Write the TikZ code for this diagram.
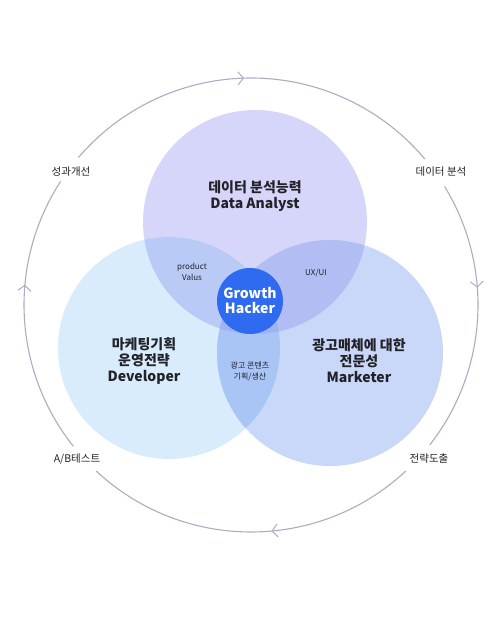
\documentclass[tikz,border=0pt]{standalone}
\usepackage{fontspec}
\setmainfont{Noto Sans CJK KR}
\usepackage{tikz}
\usetikzlibrary{arrows.meta,positioning}
\usetikzlibrary{decorations.markings}
\definecolor{RingLine}{HTML}{ABADC5}
\definecolor{AnalystFill}{HTML}{D6D6FA}
\definecolor{DeveloperFill}{HTML}{D8ECFB}
\definecolor{MarketerFill}{HTML}{C9D7F8}
\definecolor{AnalystDeveloper}{HTML}{B9CAF6}
\definecolor{AnalystMarketer}{HTML}{B1BDF3}
\definecolor{DeveloperMarketer}{HTML}{A9C5F6}
\definecolor{AllThree}{HTML}{9DB3F2}
\definecolor{HackerBlue}{HTML}{2F6BF0}
\definecolor{TextDark}{HTML}{222228}
\tikzset{
        ring arrow/.style={
            postaction={
                decorate,decoration={
                    markings,
                    mark=at position #1 with {\arrow{Straight Barb[length=5.5pt,width=13pt,line width=1pt]}}
                }
            }
        },
        ring/.style={draw=RingLine, line width=1.1pt},
        bubble/.style={circle, inner sep=0pt, minimum size=#1},
        title/.style={align=center, font=\fontsize{14}{16}\selectfont\bfseries, text=TextDark},
        step label/.style={font=\fontsize{10.5}{12}\selectfont, text=TextDark},
        small label/.style={align=center, font=\fontsize{8}{11}\selectfont, text=TextDark},
    }
\begin{document}
\begin{tikzpicture}[x = 1pt, y = 1pt]
    \useasboundingbox[fill=white] (0,0) rectangle (501,621);
    \coordinate (cycle) at (251,316);
    % the three circles
    \node[bubble=224pt, fill=AnalystFill] (analyst) at (255,399) {};
    \node[bubble=222pt, fill=DeveloperFill] (developer) at (169,273) {};
    \node[bubble=226pt, fill=MarketerFill] (marketer) at (330,268) {};
    % overlaps
    \begin{scope}
        \clip (analyst.center) circle [radius=112];
        \fill[AnalystDeveloper] (developer.center) circle [radius=111];
        \fill[AnalystMarketer] (marketer.center) circle [radius=113];
    \end{scope}
    \begin{scope}
        \clip (developer.center) circle [radius=111];
        \fill[DeveloperMarketer] (marketer.center) circle [radius=113];
        \clip (marketer.center) circle [radius=113];
        \fill[AllThree] (analyst.center) circle [radius=112];
    \end{scope}
    \node[bubble=66pt, fill=HackerBlue, align=center, text=white,
          font=\fontsize{14}{15}\selectfont\bfseries] (hacker) at (250,320) {Growth\\Hacker};
    % texts
    \node[title] (analystText) at (255,425) {데이터 분석능력\\Data Analyst};
    \node[title] (developerText) at (144,260) {마케팅기획\\운영전략\\Developer};
    \node[title] (marketerText) at (359,260) {광고매체에 대한\\전문성\\Marketer};
    \node[small label] (valueText) at (192,349) {product\\Valus};
    \node[small label] (uxText) at (316,348) {UX/UI};
    \node[small label] (contentText) at (250,250) {광고 콘텐츠\\기획/생산};
    % cycle
    \node[step label] (improve) at (71,449) {성과개선};
    \node[step label] (analysis) at (441,449) {데이터 분석};
    \node[step label] (abtest) at (77,162) {A/B테스트};
    \node[step label] (strategy) at (429,162) {전략도출};
    \draw[ring, ring arrow=0.48] ([shift={(139.5:227)}]cycle) arc [start angle=139.5, end angle=40, radius=227];
    \draw[ring, ring arrow=0.39] ([shift={(31.5:227)}]cycle) arc [start angle=31.5, end angle=-38, radius=227];
    \draw[ring, ring arrow=0.44] ([shift={(-47:227)}]cycle) arc [start angle=-47, end angle=-133, radius=227];
    \draw[ring, ring arrow=0.61] ([shift={(-141.5:227)}]cycle) arc [start angle=-141.5, end angle=-213, radius=227];
\end{tikzpicture}
\end{document}
